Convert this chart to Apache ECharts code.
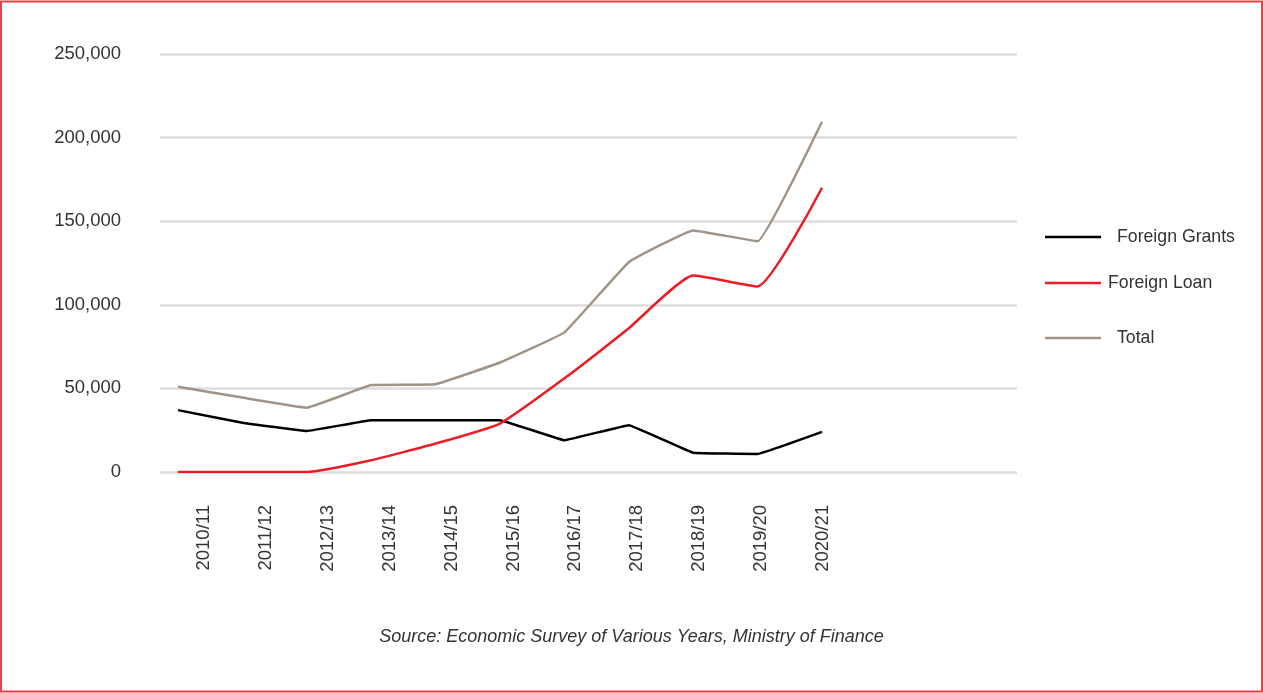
<!DOCTYPE html>
<html>
<head>
<meta charset="utf-8">
<script src="https://cdn.jsdelivr.net/npm/echarts@6/dist/echarts.min.js"></script>
<style>
  html, body { margin: 0; padding: 0; background: #ffffff; }
  #chart { width: 1263px; height: 693px; }
</style>
</head>
<body>
<div id="chart"></div>
<script>
// Fiscal years
const categories = ['2010/11', '2011/12', '2012/13', '2013/14', '2014/15', '2015/16',
  '2016/17', '2017/18', '2018/19', '2019/20', '2020/21'];

// Amounts per fiscal year
const foreignGrants = [37000, 29500, 24500, 31000, 31000, 31000, 19000, 28000, 11500, 10800, 24000];
const foreignLoan   = [0, 0, 0, 7000, 17000, 29000, 56000, 86000, 117500, 111000, 170000];
const total         = [51000, 44500, 38500, 52000, 52500, 65500, 83500, 125500, 144500, 138000, 209500];

const yTicks = { min: 0, max: 250000, interval: 50000 };

const FONT = 'Liberation Sans, Arial, sans-serif';
const TEXT = '#333333';

const chart = echarts.init(document.getElementById('chart'), null, { renderer: 'canvas' });

const fmt = v => v === 0 ? '0' : v.toLocaleString('en-US');

function legendAt(name, left, top, textPad) {
  return {
    data: [name],
    left: left, top: top,
    orient: 'vertical',
    icon: 'rect',
    itemWidth: 56, itemHeight: 2.5,
    padding: 0,
    textStyle: { fontFamily: FONT, fontSize: 17.7, color: TEXT, padding: [0, 0, 0, textPad] },
    selectedMode: false
  };
}

chart.setOption({
  animation: false,
  backgroundColor: '#ffffff',
  graphic: [
    {
      type: 'rect',
      shape: { x: 1, y: 1.5, width: 1261, height: 690 },
      style: { fill: 'none', stroke: '#ef3e48', lineWidth: 2 },
      silent: true
    },
    {
      type: 'text',
      left: 'center', top: 628,
      style: {
        text: 'Source: Economic Survey of Various Years, Ministry of Finance',
        font: 'italic 18px ' + FONT,
        fill: TEXT
      }
    }
  ],
  legend: [
    legendAt('Foreign Grants', 1045, 228, 11),
    legendAt('Foreign Loan', 1045, 274, 2),
    legendAt('Total', 1045, 329, 11)
  ],
  grid: [
    // value gridlines
    { left: 160, right: 246, top: 54, bottom: 221 },
    // data area
    { left: 178, right: 441, top: 54, bottom: 221 },
    // category labels
    { left: 204, right: 440, top: 54, bottom: 221 }
  ],
  xAxis: [
    { gridIndex: 0, type: 'value', show: false, min: 0, max: 1 },
    { gridIndex: 1, type: 'category', data: categories, boundaryGap: false, show: false },
    {
      gridIndex: 2, type: 'category', data: categories, boundaryGap: false,
      axisLine: { show: false }, axisTick: { show: false },
      axisLabel: { rotate: 90, margin: 33, fontFamily: FONT, fontSize: 18.5, color: TEXT, interval: 0 }
    }
  ],
  yAxis: [
    {
      gridIndex: 0, type: 'value', min: yTicks.min, max: yTicks.max, interval: yTicks.interval,
      axisLine: { show: false }, axisTick: { show: false },
      axisLabel: { margin: 39, fontFamily: FONT, fontSize: 18.5, color: TEXT, formatter: fmt },
      splitLine: { lineStyle: { color: '#dddddd', width: 2.5 } }
    },
    { gridIndex: 1, type: 'value', min: yTicks.min, max: yTicks.max, show: false, splitLine: { show: false } },
    { gridIndex: 2, type: 'value', min: yTicks.min, max: yTicks.max, show: false, splitLine: { show: false } }
  ],
  series: [
    {
      name: 'Foreign Grants', type: 'line', xAxisIndex: 1, yAxisIndex: 1,
      data: foreignGrants, symbol: 'none', smooth: 0.05,
      lineStyle: { color: '#000000', width: 2.5 }, itemStyle: { color: '#000000' }
    },
    {
      name: 'Foreign Loan', type: 'line', xAxisIndex: 1, yAxisIndex: 1,
      data: foreignLoan, symbol: 'none', smooth: 0.15,
      lineStyle: { color: '#ed1c24', width: 2.5 }, itemStyle: { color: '#ed1c24' }
    },
    {
      name: 'Total', type: 'line', xAxisIndex: 1, yAxisIndex: 1,
      data: total, symbol: 'none', smooth: 0.08,
      lineStyle: { color: '#a09486', width: 2.5 }, itemStyle: { color: '#a09486' }
    }
  ]
});
</script>
</body>
</html>
